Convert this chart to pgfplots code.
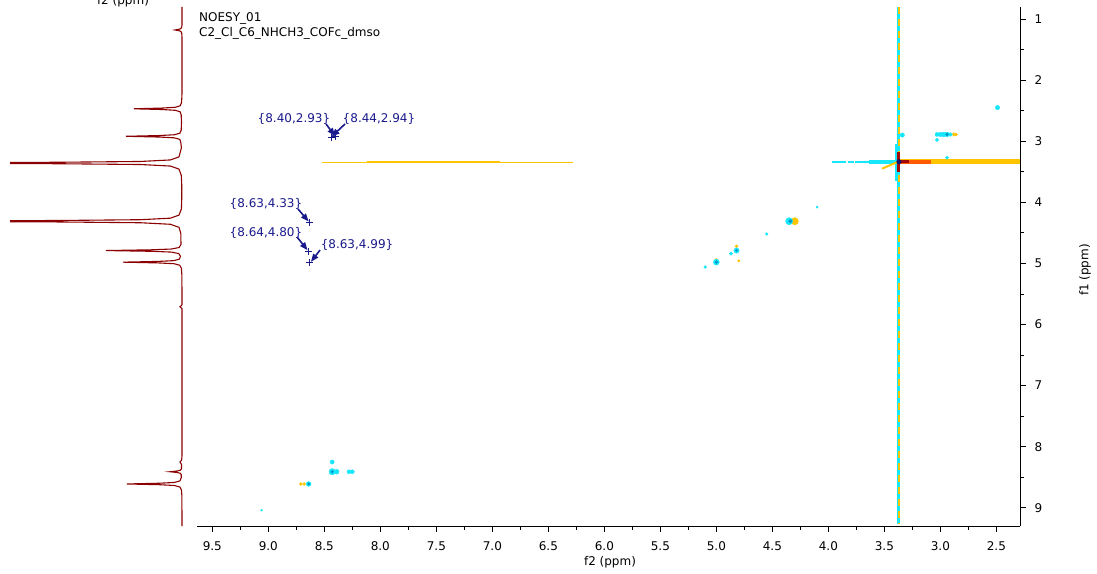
\documentclass[border=0pt]{standalone}
\usepackage{fontspec}
\setmainfont{DejaVu Sans}
\usepackage{pgfplots}
\pgfplotsset{compat=1.18}
\usetikzlibrary{arrows.meta}
\definecolor{cy}{RGB}{24,230,250}
\definecolor{cyd}{RGB}{0,150,205}
\definecolor{org}{RGB}{255,196,0}
\definecolor{orr}{RGB}{255,90,0}
\definecolor{dkr}{RGB}{160,10,10}
\definecolor{nv}{RGB}{20,20,110}
\definecolor{tr}{RGB}{139,0,0}
\definecolor{ann}{RGB}{25,25,140}
\pgfplotsset{blob/.style={scatter, only marks, mark=*,
  scatter/use mapped color={draw=#1, fill=#1},
  visualization depends on={\thisrow{s}\as\ms},
  scatter/@pre marker code/.append style={/tikz/mark size=\ms}}}
\begin{document}
\begin{tikzpicture}[x=1pt,y=1pt]
\path[use as bounding box] (0,0) rectangle (1097,573);
% ---- left 1D projection ----
\begin{axis}[at={(10pt,47pt)}, anchor=south west, scale only axis,
  width=180pt, height=519pt, xmin=10, xmax=190, ymin=0.804, ymax=9.298,
  y dir=reverse, axis lines=none, clip=true]
\addplot[tr, line width=1.1pt] coordinates {
(182,0.80) (182,1.10) (181.7,1.13) (181.0,1.155) (179.1,1.168) (175,1.18) (179.1,1.192) (181.0,1.205) (181.7,1.23) (182,1.30)
(182,2.20) (181.9,2.27) (181.5,2.37) (180.2,2.42) (175.4,2.445) (162.3,2.458) (134,2.47) (162.3,2.482) (175.4,2.495) (180.2,2.52) (181.2,2.57)
(181.5,2.695) (181.2,2.82) (179.8,2.87) (174.3,2.895) (159,2.908) (126,2.92) (159,2.932) (174.3,2.945) (179.8,2.97) (180.8,3.02)
(181.4,3.11) (179.0,3.257) (170.4,3.307) (140.6,3.332) (59,3.345) (-118,3.357) (59,3.369) (140.6,3.382) (170.4,3.407) (179.0,3.457) (181.25,3.557)
(181.7,3.70) (181.8,3.83) (181.7,3.96) (181.4,4.11) (179.0,4.21) (170.4,4.26) (140.6,4.285) (59,4.298) (-118,4.31) (59,4.322) (140.6,4.335) (170.4,4.36) (179.0,4.41)
(180.8,4.51) (181.0,4.69) (179.1,4.74) (171.5,4.765) (150.8,4.778) (106,4.79) (150.8,4.802) (171.5,4.815) (178.8,4.84) (180.5,4.885)
(179.4,4.93) (173.9,4.955) (157.8,4.968) (123,4.98) (157.8,4.992) (173.9,5.005) (179.7,5.03) (181.4,5.08) (181.9,5.20)
(182,5.60) (182,5.68) (180,5.71) (182,5.74) (182,8.15) (181.6,8.22) (180,8.25) (181.5,8.29)
(181.5,8.36) (180.3,8.385) (177.1,8.398) (170,8.41) (177.1,8.422) (180.3,8.435) (181.3,8.46) (181.2,8.51)
(179.9,8.56) (174.4,8.585) (159.4,8.598) (127,8.61) (159.4,8.622) (174.4,8.635) (179.9,8.66) (181.5,8.71) (181.9,8.81) (182,9.30)};
\end{axis}
% ---- main 2D axis ----
\begin{axis}[at={(197pt,47pt)}, anchor=south west, scale only axis,
  width=823pt, height=519pt,
  xmin=2.289, xmax=9.637, x dir=reverse, ymin=0.804, ymax=9.298, y dir=reverse,
  axis x line*=bottom, axis y line*=right,
  axis line style={-, black, line width=0.8pt},
  tick align=outside, major tick length=6pt, minor tick length=4pt,
  tick style={black, line width=0.8pt},
  xtick={2.5,3,3.5,4,4.5,5,5.5,6,6.5,7,7.5,8,8.5,9,9.5},
  xticklabels={2.5,3.0,3.5,4.0,4.5,5.0,5.5,6.0,6.5,7.0,7.5,8.0,8.5,9.0,9.5},
  minor xtick={2.75,3.25,3.75,4.25,4.75,5.25,5.75,6.25,6.75,7.25,7.75,8.25,8.75,9.25},
  ytick={1,2,3,4,5,6,7,8,9},
  yticklabels={1,2,3,4,5,6,7,8,9},
  minor ytick={1.5,2.5,3.5,4.5,5.5,6.5,7.5,8.5},
  ticklabel style={font=\fontsize{12}{14}\selectfont},
  xticklabel style={yshift=-6pt},
  yticklabel style={xshift=5pt},
  clip=true]
% horizontal t1 stripe (left thin part)
\addplot[org, line width=1pt] coordinates {(8.52,3.345) (8.12,3.345)};
\addplot[org, line width=2pt] coordinates {(8.12,3.343) (6.93,3.343)};
\addplot[org, line width=1.2pt] coordinates {(6.93,3.343) (6.28,3.343)};
% horizontal stripe near water
\addplot[cy, line width=2pt, dash pattern=on 14pt off 2pt on 6pt off 1pt] coordinates {(3.97,3.338) (3.40,3.338)};
\addplot[cy, line width=4.5pt] coordinates {(3.64,3.338) (3.40,3.338)};
\addplot[org, line width=4.5pt] coordinates {(3.37,3.335) (2.289,3.335)};
\addplot[orr, line width=4pt] coordinates {(3.36,3.335) (3.08,3.335)};
\addplot[dkr, line width=3.5pt] coordinates {(3.36,3.335) (3.28,3.335)};
% vertical t1 stripe
\addplot[cy, line width=2.5pt] coordinates {(3.376,0.804) (3.376,9.26)};
\addplot[cy, line width=5pt] coordinates {(3.38,3.05) (3.38,3.65)};
\addplot[org, line width=2.5pt, dash pattern=on 7pt off 5pt] coordinates {(3.37,0.804) (3.37,9.26)};
\addplot[org, line width=2pt] coordinates {(3.37,3.33) (3.52,3.45)};
\addplot[dkr, line width=3pt] coordinates {(3.37,3.18) (3.37,3.50)};
% orange parts of cross peaks
\addplot[blob=org] table[row sep=\\] {x y s\\
2.86 2.89 1.6\\ 2.88 2.89 1.8\\ 4.30 4.31 3.6\\ 4.82 4.72 1.5\\ 4.80 4.96 1.2\\
8.71 8.61 1.5\\ 8.68 8.61 1.5\\ 5.00 4.94 1.4\\};
% cyan cross/diagonal peaks
\addplot[blob=cy] table[row sep=\\] {x y s\\
2.49 2.45 2.2\\ 3.03 2.89 2.0\\ 3.00 2.89 2.2\\ 2.97 2.89 2.4\\ 2.94 2.89 2.4\\ 2.91 2.89 1.9\\
3.03 2.98 1.7\\ 2.94 3.27 1.7\\ 3.34 2.90 2.2\\
4.35 4.31 3.6\\ 4.10 4.08 1.1\\ 4.55 4.52 1.4\\ 4.82 4.79 2.7\\ 4.87 4.84 1.7\\
5.00 4.98 3.0\\ 5.10 5.06 1.4\\
8.43 8.25 2.1\\ 8.43 8.41 3.2\\ 8.39 8.41 2.4\\ 8.28 8.41 2.0\\ 8.25 8.41 2.0\\
8.64 8.61 2.4\\ 9.06 9.04 0.9\\};
\addplot[blob=cyd] table[row sep=\\] {x y s\\
2.94 2.89 1.4\\ 4.34 4.31 1.7\\ 4.82 4.79 1.1\\ 5.00 4.98 1.4\\ 8.43 8.41 1.3\\ 8.64 8.61 1.1\\};
\addplot[blob=nv] table[row sep=\\] {x y s\\ 3.37 3.337 2.3\\};
% annotations
\addplot[ann, line width=1.6pt, -{Triangle[width=6pt,length=8pt]}] coordinates {(8.485,2.718) (8.405,2.915)};
\addplot[ann, line width=1.6pt, -{Triangle[width=6pt,length=8pt]}] coordinates {(8.315,2.718) (8.435,2.925)};
\addplot[ann, line width=1.6pt, -{Triangle[width=6pt,length=8pt]}] coordinates {(8.735,4.110) (8.64,4.315)};
\addplot[ann, line width=1.6pt, -{Triangle[width=6pt,length=8pt]}] coordinates {(8.744,4.568) (8.65,4.785)};
\addplot[ann, line width=1.6pt, -{Triangle[width=6pt,length=8pt]}] coordinates {(8.538,4.781) (8.62,4.975)};
\addplot[ann, only marks, mark=+, mark size=3.5pt, line width=1pt] coordinates {
(8.40,2.93) (8.44,2.94) (8.63,4.33) (8.64,4.80) (8.63,4.99)};
\node[ann, font=\fontsize{12}{14}\selectfont] at (axis cs:8.771,2.637) {\{8.40,2.93\}};
\node[ann, font=\fontsize{12}{14}\selectfont] at (axis cs:8.012,2.637) {\{8.44,2.94\}};
\node[ann, font=\fontsize{12}{14}\selectfont] at (axis cs:9.021,4.028) {\{8.63,4.33\}};
\node[ann, font=\fontsize{12}{14}\selectfont] at (axis cs:9.021,4.502) {\{8.64,4.80\}};
\node[ann, font=\fontsize{12}{14}\selectfont] at (axis cs:8.208,4.699) {\{8.63,4.99\}};
\end{axis}
% texts
\node[anchor=base west, font=\fontsize{12}{14}\selectfont, inner sep=0pt] at (199,551) {NOESY\_01};
\node[anchor=base west, font=\fontsize{12}{14}\selectfont, inner sep=0pt] at (199,536) {C2\_Cl\_C6\_NHCH3\_COFc\_dmso};
\node[anchor=base, font=\fontsize{12}{14}\selectfont, inner sep=0pt] at (610,8) {f2 (ppm)};
\node[overlay, anchor=base, font=\fontsize{12}{14}\selectfont, inner sep=0pt] at (123,568) {f2 (ppm)};
\node[rotate=90, font=\fontsize{12}{14}\selectfont, inner sep=0pt] at (1085,303) {f1 (ppm)};
\end{tikzpicture}
\end{document}
